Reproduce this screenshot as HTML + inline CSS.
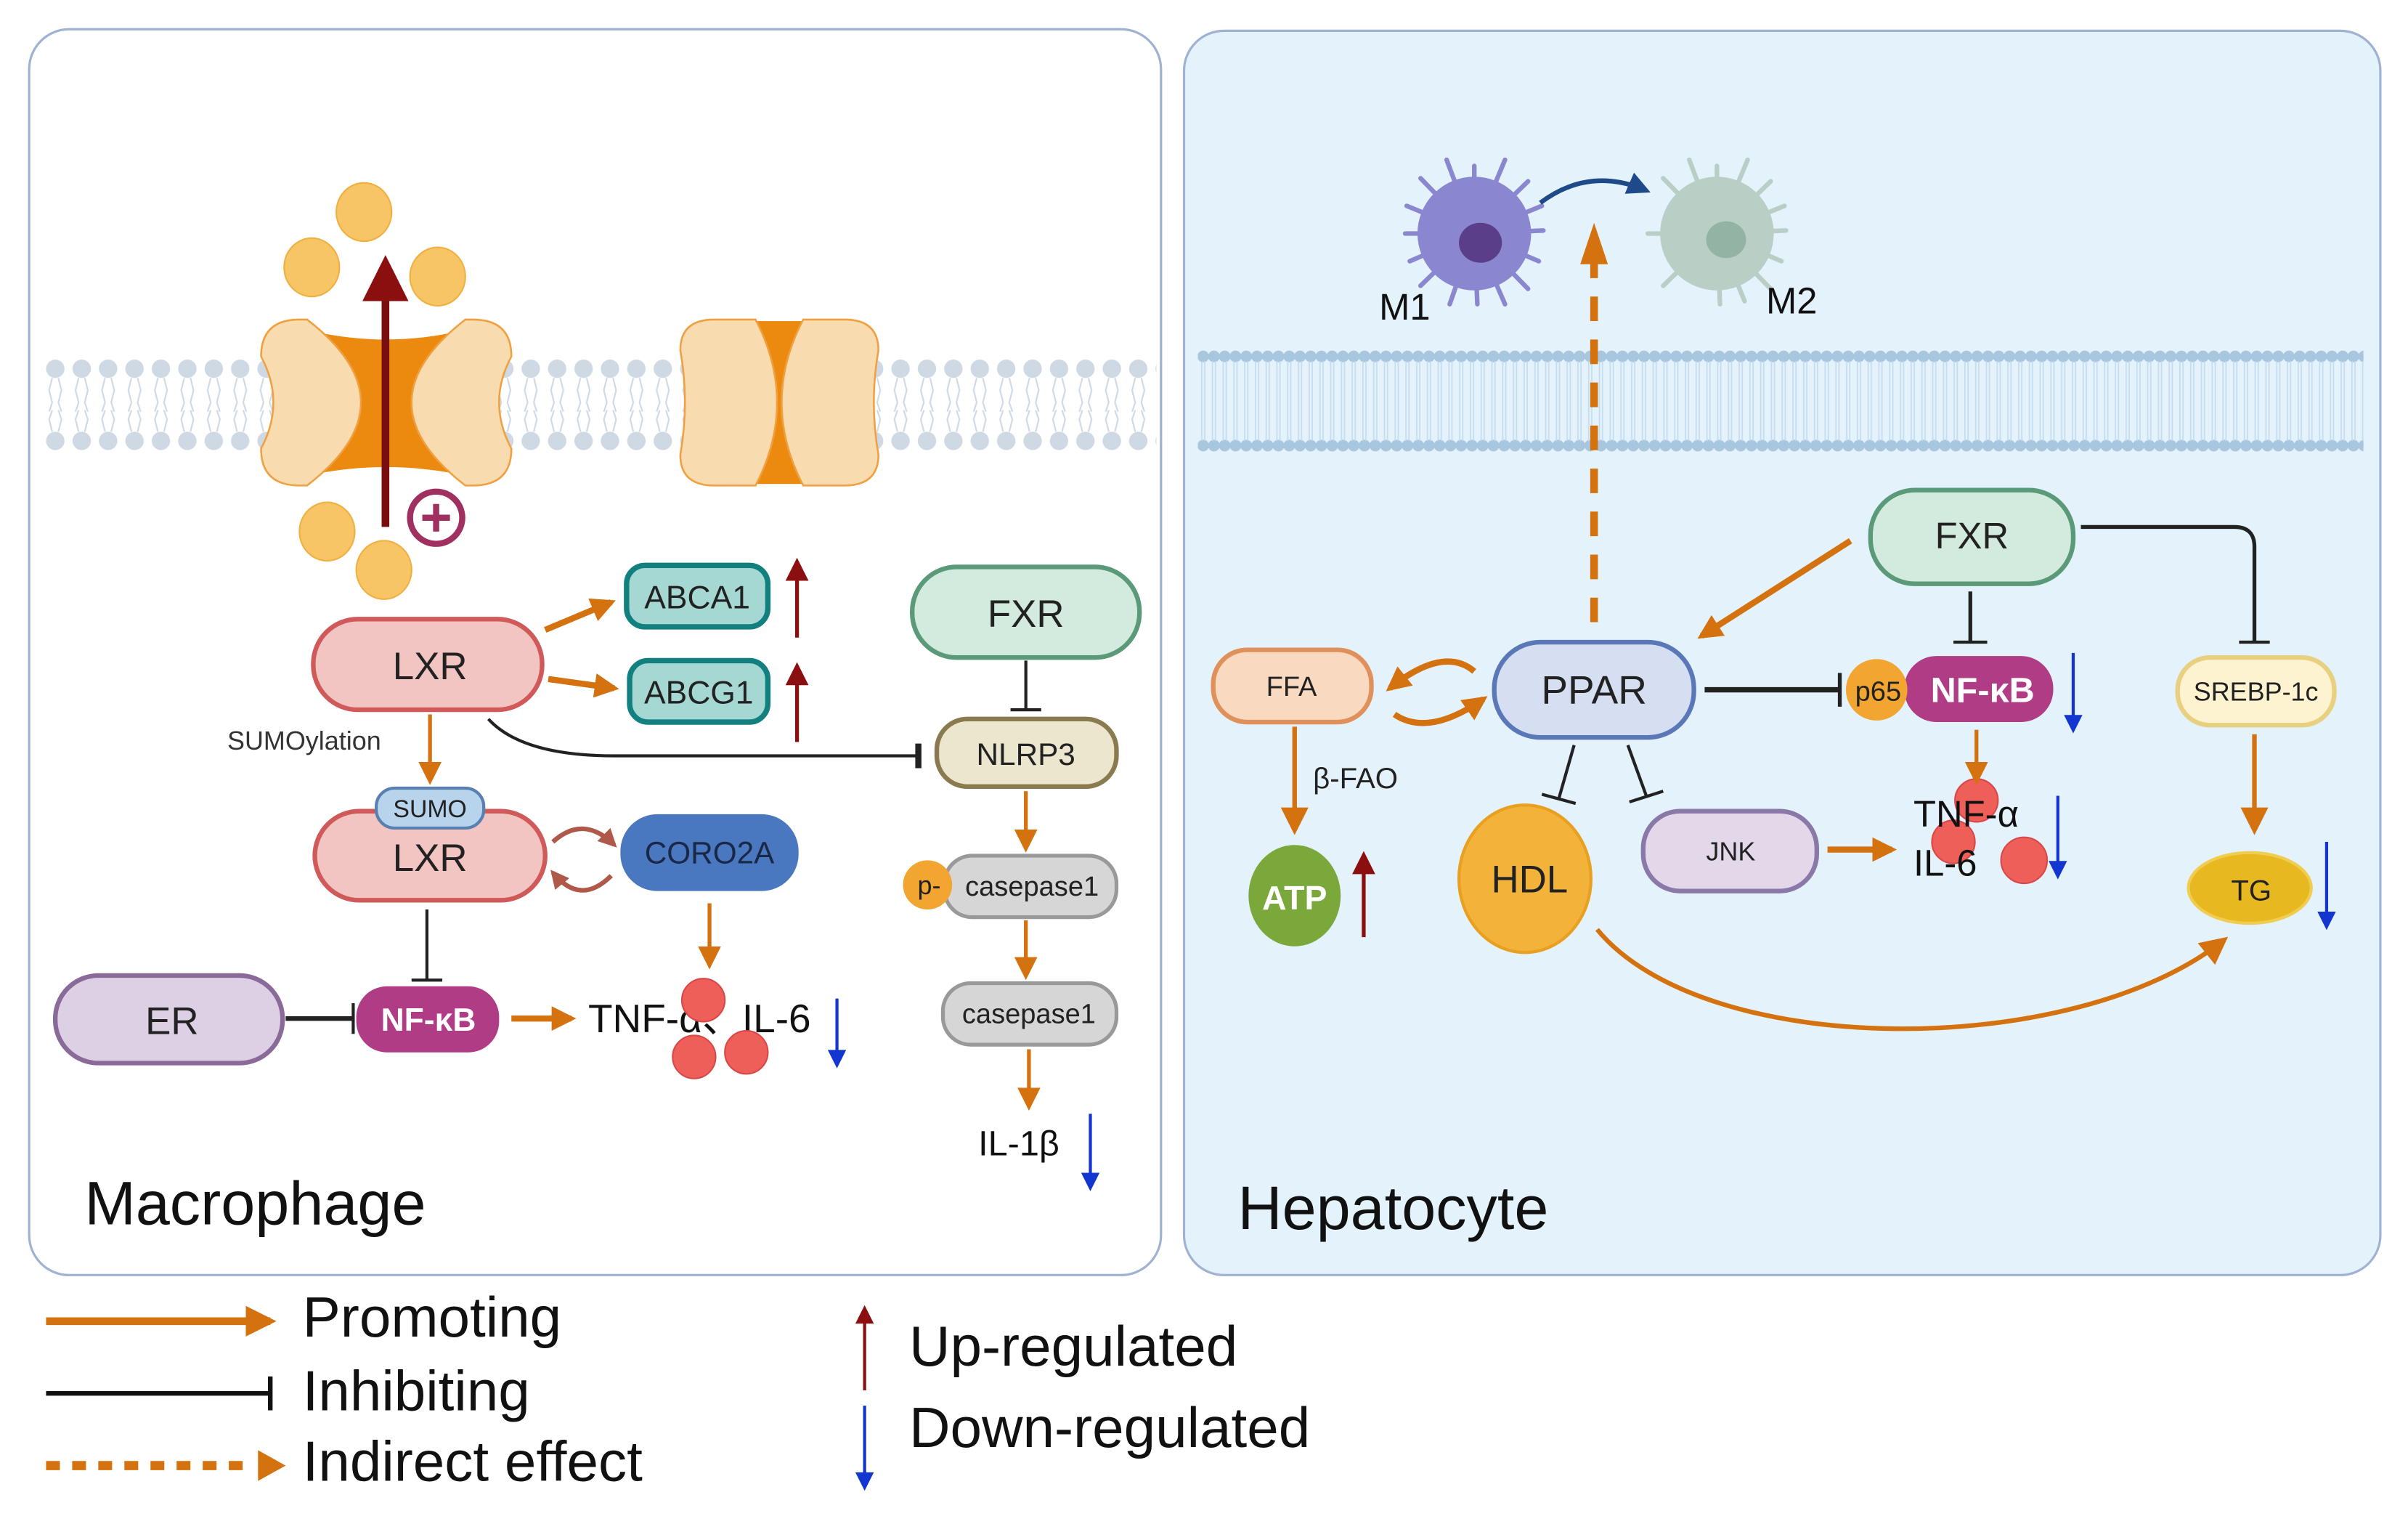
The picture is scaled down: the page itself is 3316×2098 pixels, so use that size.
<!DOCTYPE html>
<html><head><meta charset="utf-8"><style>
html,body{margin:0;padding:0;background:#fff;}
svg{display:block;}
text{font-family:"Liberation Sans",sans-serif;}
</style></head><body>
<svg width="3316" height="2098" viewBox="0 0 1568 992" xmlns="http://www.w3.org/2000/svg">
<defs>
<marker id="ao" viewBox="0 0 10 10" refX="8" refY="5" markerWidth="4" markerHeight="4" orient="auto"><path d="M0,0 L10,5 L0,10 z" fill="#d4720f"/></marker>
<marker id="ao2" viewBox="0 0 10 10" refX="8" refY="5" markerWidth="6" markerHeight="6" orient="auto"><path d="M0,0 L10,5 L0,10 z" fill="#d4720f"/></marker>
<marker id="ar" viewBox="0 0 10 10" refX="8" refY="5" markerWidth="7" markerHeight="6" orient="auto"><path d="M0,0 L10,5 L0,10 z" fill="#8b0f0f"/></marker>
<marker id="ab" viewBox="0 0 10 10" refX="8" refY="5" markerWidth="7" markerHeight="6" orient="auto"><path d="M0,0 L10,5 L0,10 z" fill="#1436d0"/></marker>
<marker id="anb" viewBox="0 0 10 10" refX="8" refY="5" markerWidth="5" markerHeight="5" orient="auto"><path d="M0,0 L10,5 L0,10 z" fill="#1f4a8a"/></marker>
<marker id="abr" viewBox="0 0 10 10" refX="8" refY="5" markerWidth="4" markerHeight="4" orient="auto"><path d="M0,0 L10,5 L0,10 z" fill="#b0584a"/></marker>
<pattern id="memL" patternUnits="userSpaceOnUse" x="28" y="232" width="17.2" height="64">
<circle cx="8" cy="8" r="6" fill="#cfd9e4"/><circle cx="8" cy="55" r="6" fill="#cfd9e4"/>
<path d="M6,14 l-2,8 l2,8 l-2,6 M10,14 l2,8 l-2,8 l2,6 M6,49 l-2,-8 l2,-6 M10,49 l2,-8 l-2,-6" stroke="#cfd9e4" stroke-width="1" fill="none"/>
</pattern>
<pattern id="memR" patternUnits="userSpaceOnUse" x="780" y="226" width="7" height="72">
<circle cx="3.5" cy="6" r="3.8" fill="#a9c6df"/><circle cx="3.5" cy="64" r="3.8" fill="#a9c6df"/>
<line x1="2.5" y1="9" x2="2.5" y2="61" stroke="#c4dcee" stroke-width="0.8"/><line x1="4.5" y1="9" x2="4.5" y2="61" stroke="#c4dcee" stroke-width="0.8"/>
</pattern>
</defs>

<rect x="19" y="19" width="737" height="811" rx="26" fill="#fff" stroke="#9fb2d2" stroke-width="1.5"/>
<rect x="771" y="20" width="779" height="810" rx="26" fill="#e3f2fb" stroke="#9fb2d2" stroke-width="1.5"/>

<rect x="28" y="232" width="725" height="64" fill="url(#memL)"/>
<!-- channel 1 -->
<path d="M190,212 Q251,230 313,212 L313,312 Q251,296 190,312 Z" fill="#ec8a10"/>
<path d="M170,232 Q170,208 195,208 L200,208 Q270,262 200,316 L195,316 Q170,316 170,292 Q186,262 170,232Z" fill="#f8dcb0" stroke="#f0a040" stroke-width="1.2"/>
<path d="M333,232 Q333,208 308,208 L303,208 Q233,262 303,316 L308,316 Q333,316 333,292 Q317,262 333,232Z" fill="#f8dcb0" stroke="#f0a040" stroke-width="1.2"/>
<!-- channel 2 -->
<rect x="488" y="209" width="38" height="106" fill="#ec8a10"/>
<path d="M443,228 Q443,208 465,208 L492,208 Q520,262 492,316 L465,316 Q443,316 443,296 Q449,262 443,228Z" fill="#f8dcb0" stroke="#f0a040" stroke-width="1.2"/>
<path d="M572,228 Q572,208 550,208 L523,208 Q495,262 523,316 L550,316 Q572,316 572,296 Q566,262 572,228Z" fill="#f8dcb0" stroke="#f0a040" stroke-width="1.2"/>
<g fill="#f7c466" stroke="#f0b040" stroke-width="1">
<ellipse cx="237" cy="138" rx="18" ry="19"/><ellipse cx="203" cy="174" rx="18" ry="19"/><ellipse cx="285" cy="180" rx="18" ry="19"/>
<ellipse cx="213" cy="346" rx="18" ry="19"/><ellipse cx="250" cy="371" rx="18" ry="19"/></g>
<line x1="251" y1="343" x2="251" y2="172" stroke="#7a0e0e" stroke-width="5" marker-end="url(#ar)"/>
<circle cx="284" cy="337" r="17" fill="#fff" stroke="#a03060" stroke-width="4"/>
<path d="M284,328 v18 M275,337 h18" stroke="#a03060" stroke-width="4"/>

<g font-size="24" text-anchor="middle">
<rect x="204" y="403" width="149" height="59" rx="29" fill="#f2c4c2" stroke="#d05a5a" stroke-width="3"/>
<text x="280" y="442" font-size="25" fill="#222">LXR</text>
<rect x="408" y="368" width="92" height="40" rx="12" fill="#a6d8d3" stroke="#138080" stroke-width="3.5"/>
<text x="454" y="396" font-size="21" fill="#222">ABCA1</text>
<rect x="410" y="430" width="90" height="40" rx="12" fill="#a6d8d3" stroke="#138080" stroke-width="3.5"/>
<text x="455" y="458" font-size="21" fill="#222">ABCG1</text>
<rect x="594" y="369" width="148" height="59" rx="29" fill="#d3eadf" stroke="#5a9a78" stroke-width="3"/>
<text x="668" y="408" font-size="25" fill="#222">FXR</text>
<rect x="610" y="468" width="117" height="44" rx="20" fill="#ece6cf" stroke="#8a7a50" stroke-width="3"/>
<text x="668" y="498" font-size="20" fill="#222">NLRP3</text>
<rect x="205" y="528" width="150" height="58" rx="29" fill="#f2c4c2" stroke="#d05a5a" stroke-width="3"/>
<text x="280" y="567" font-size="25" fill="#222">LXR</text>
<rect x="245" y="513" width="70" height="26" rx="12" fill="#b8d4ec" stroke="#5a80b0" stroke-width="2"/>
<text x="280" y="532" font-size="16" fill="#222">SUMO</text>
<rect x="404" y="530" width="116" height="50" rx="24" fill="#4a78c0"/>
<text x="462" y="562" font-size="20" fill="#1a2848">CORO2A</text>
<rect x="36" y="635" width="148" height="57" rx="28" fill="#ddd0e4" stroke="#8a6a98" stroke-width="3"/>
<text x="112" y="673" font-size="25" fill="#222">ER</text>
<rect x="232" y="642" width="93" height="43" rx="20" fill="#b03c86"/>
<text x="279" y="671" font-size="21" font-weight="bold" fill="#fff">NF-κB</text>
<rect x="615" y="557" width="112" height="40" rx="18" fill="#d6d6d6" stroke="#999" stroke-width="2.5"/>
<text x="672" y="583" font-size="18" fill="#222">casepase1</text>
<circle cx="604" cy="576" r="16" fill="#f2a531"/>
<text x="605" y="582" font-size="17" fill="#222">p-</text>
<rect x="614" y="640" width="113" height="40" rx="18" fill="#d6d6d6" stroke="#999" stroke-width="2.5"/>
<text x="670" y="666" font-size="18" fill="#222">casepase1</text>
</g>
<text x="148" y="488" font-size="17" fill="#333">SUMOylation</text>
<g stroke="#d4720f" stroke-width="4" fill="none">
<line x1="355" y1="410" x2="398" y2="392" marker-end="url(#ao)"/>
<line x1="357" y1="442" x2="400" y2="448" marker-end="url(#ao)"/>
<line x1="280" y1="465" x2="280" y2="508" stroke-width="2.5" marker-end="url(#ao2)"/>
<line x1="462" y1="588" x2="462" y2="628" stroke-width="2.5" marker-end="url(#ao2)"/>
<line x1="333" y1="663" x2="372" y2="663" marker-end="url(#ao)"/>
<line x1="668" y1="515" x2="668" y2="552" stroke-width="2.5" marker-end="url(#ao2)"/>
<line x1="668" y1="599" x2="668" y2="635" stroke-width="2.5" marker-end="url(#ao2)"/>
<line x1="670" y1="683" x2="670" y2="720" stroke-width="2.5" marker-end="url(#ao2)"/>
</g>
<g stroke="#8b0f0f" stroke-width="2.5"><line x1="519" y1="415" x2="519" y2="366" marker-end="url(#ar)"/><line x1="519" y1="483" x2="519" y2="434" marker-end="url(#ar)"/></g>
<g stroke="#222" stroke-width="2" fill="none">
<line x1="668" y1="430" x2="668" y2="462"/><line x1="658" y1="462" x2="678" y2="462"/>
<path d="M318,468 Q340,492 400,492 L597,492"/><line x1="598" y1="484" x2="598" y2="500" stroke-width="4"/>
<line x1="278" y1="592" x2="278" y2="638"/><line x1="268" y1="638" x2="288" y2="638"/>
<line x1="186" y1="663" x2="230" y2="663" stroke-width="3"/><line x1="230" y1="653" x2="230" y2="673"/>
</g>
<g stroke="#b0584a" stroke-width="3" fill="none">
<path d="M360,548 Q380,530 400,550" marker-end="url(#abr)"/>
<path d="M398,570 Q378,590 360,568" marker-end="url(#abr)"/>
</g>
<text x="383" y="672" font-size="26" fill="#111">TNF-α、IL-6</text>
<g fill="#ee5f5a" stroke="#d84848"><circle cx="458" cy="651" r="14"/><circle cx="452" cy="688" r="14"/><circle cx="486" cy="685" r="14"/></g>
<line x1="545" y1="650" x2="545" y2="693" stroke="#1436d0" stroke-width="2" marker-end="url(#ab)"/>
<text x="637" y="752" font-size="23" fill="#111">IL-1β</text>
<line x1="710" y1="725" x2="710" y2="773" stroke="#1436d0" stroke-width="2" marker-end="url(#ab)"/>
<text x="55" y="797" font-size="40" fill="#111">Macrophage</text>

<rect x="780" y="226" width="759" height="72" fill="url(#memR)"/>
<g>
<g stroke="#8a86d0" stroke-width="3" stroke-linecap="round">
<line x1="960" y1="152" x2="960" y2="108"/><line x1="960" y1="152" x2="995" y2="118"/><line x1="960" y1="152" x2="1005" y2="150"/><line x1="960" y1="152" x2="995" y2="188"/><line x1="960" y1="152" x2="962" y2="198"/><line x1="960" y1="152" x2="925" y2="186"/><line x1="960" y1="152" x2="915" y2="152"/><line x1="960" y1="152" x2="925" y2="116"/><line x1="960" y1="152" x2="942" y2="104"/><line x1="960" y1="152" x2="980" y2="104"/><line x1="960" y1="152" x2="1002" y2="170"/><line x1="960" y1="152" x2="918" y2="170"/><line x1="960" y1="152" x2="944" y2="198"/><line x1="960" y1="152" x2="980" y2="198"/><line x1="960" y1="152" x2="1004" y2="134"/><line x1="960" y1="152" x2="916" y2="134"/></g>
<circle cx="960" cy="152" r="37" fill="#8a86d0"/>
<ellipse cx="964" cy="158" rx="14" ry="13" fill="#5a3e8a"/>
<g stroke="#b9cfc5" stroke-width="3" stroke-linecap="round">
<line x1="1118" y1="152" x2="1118" y2="108"/><line x1="1118" y1="152" x2="1153" y2="118"/><line x1="1118" y1="152" x2="1163" y2="150"/><line x1="1118" y1="152" x2="1153" y2="188"/><line x1="1118" y1="152" x2="1120" y2="198"/><line x1="1118" y1="152" x2="1083" y2="186"/><line x1="1118" y1="152" x2="1073" y2="152"/><line x1="1118" y1="152" x2="1083" y2="116"/><line x1="1118" y1="152" x2="1100" y2="104"/><line x1="1118" y1="152" x2="1138" y2="104"/><line x1="1118" y1="152" x2="1160" y2="170"/><line x1="1118" y1="152" x2="1162" y2="134"/><line x1="1118" y1="152" x2="1136" y2="196"/></g>
<circle cx="1118" cy="152" r="37" fill="#b9cfc5"/>
<ellipse cx="1124" cy="156" rx="13" ry="12" fill="#93b3a4"/>
<path d="M1003,132 Q1035,108 1072,124" stroke="#1f4a8a" stroke-width="3" fill="none" marker-end="url(#anb)"/>
</g>
<text x="898" y="208" font-size="24" fill="#111">M1</text>
<text x="1150" y="204" font-size="24" fill="#111">M2</text>
<line x1="1038" y1="405" x2="1038" y2="158" stroke="#d4720f" stroke-width="5" stroke-dasharray="16,12"/>
<path d="M1029,172 L1038,145 L1047,172 Z" fill="#d4720f"/>

<g text-anchor="middle">
<rect x="1218" y="319" width="132" height="61" rx="29" fill="#d3eadf" stroke="#5a9a78" stroke-width="3"/>
<text x="1284" y="357" font-size="24" fill="#222">FXR</text>
<rect x="973" y="418" width="130" height="62" rx="30" fill="#d6dff2" stroke="#5a78b8" stroke-width="3"/>
<text x="1038" y="458" font-size="26" fill="#222">PPAR</text>
<rect x="790" y="423" width="103" height="47" rx="22" fill="#f9d9c0" stroke="#e0905a" stroke-width="3"/>
<text x="841" y="453" font-size="18" fill="#222">FFA</text>
<rect x="1240" y="427" width="97" height="43" rx="21" fill="#b03c86"/>
<text x="1291" y="457" font-size="23" font-weight="bold" fill="#fff">NF-κB</text>
<circle cx="1222" cy="449" r="20" fill="#f2a531"/>
<text x="1223" y="456" font-size="18" fill="#222">p65</text>
<rect x="1418" y="428" width="102" height="44" rx="21" fill="#fdf3d0" stroke="#e8d080" stroke-width="3"/>
<text x="1469" y="456" font-size="17" fill="#222">SREBP-1c</text>
<ellipse cx="843" cy="583" rx="30" ry="33" fill="#7aa83a"/>
<text x="843" y="592" font-size="22" font-weight="bold" fill="#fff">ATP</text>
<ellipse cx="993" cy="572" rx="43" ry="48" fill="#f3b23a" stroke="#e8a020" stroke-width="2"/>
<text x="996" y="581" font-size="25" fill="#222">HDL</text>
<rect x="1070" y="528" width="113" height="52" rx="24" fill="#e2d8ea" stroke="#8a78a8" stroke-width="3"/>
<text x="1127" y="560" font-size="17" fill="#222">JNK</text>
<ellipse cx="1465" cy="578" rx="40" ry="23" fill="#e8b820" stroke="#f0cc50" stroke-width="2"/>
<text x="1466" y="586" font-size="19" fill="#222">TG</text>
</g>
<text x="855" y="513" font-size="19" fill="#222">β-FAO</text>
<g fill="#ee5f5a" stroke="#d84848"><circle cx="1287" cy="521" r="14"/><circle cx="1272" cy="548" r="14"/><circle cx="1318" cy="560" r="15"/></g>
<text x="1246" y="538" font-size="24" fill="#111">TNF-α</text>
<text x="1246" y="570" font-size="24" fill="#111">IL-6</text>
<g stroke="#d4720f" stroke-width="4" fill="none">
<line x1="1205" y1="352" x2="1108" y2="414" marker-end="url(#ao)"/>
<path d="M960,437 Q940,420 905,448" marker-end="url(#ao)"/>
<path d="M908,465 Q930,480 966,455" marker-end="url(#ao)"/>
<line x1="843" y1="473" x2="843" y2="540" stroke-width="3" marker-end="url(#ao2)"/>
<line x1="1190" y1="553" x2="1232" y2="553" marker-end="url(#ao)"/>
<line x1="1287" y1="475" x2="1287" y2="508" stroke-width="2.5" marker-end="url(#ao2)"/>
<line x1="1468" y1="478" x2="1468" y2="540" stroke-width="3" marker-end="url(#ao2)"/>
<path d="M1040,605 C1110,690 1350,690 1448,612" stroke-width="3" marker-end="url(#ao2)"/>
</g>
<g stroke="#222" stroke-width="2.5" fill="none">
<line x1="1283" y1="385" x2="1283" y2="418"/><line x1="1272" y1="418" x2="1294" y2="418" stroke-width="2"/>
<path d="M1355,343 L1455,343 Q1468,343 1468,356 L1468,418"/><line x1="1458" y1="418" x2="1478" y2="418" stroke-width="2"/>
<line x1="1110" y1="449" x2="1198" y2="449" stroke-width="3.5"/><line x1="1198" y1="438" x2="1198" y2="460"/>
<line x1="1025" y1="485" x2="1015" y2="520" stroke-width="2"/><line x1="1004" y1="517" x2="1026" y2="523" stroke-width="2"/>
<line x1="1060" y1="485" x2="1072" y2="518" stroke-width="2"/><line x1="1061" y1="522" x2="1083" y2="515" stroke-width="2"/>
</g>
<line x1="888" y1="610" x2="888" y2="557" stroke="#8b0f0f" stroke-width="2.5" marker-end="url(#ar)"/>
<line x1="1350" y1="425" x2="1350" y2="475" stroke="#1436d0" stroke-width="2" marker-end="url(#ab)"/>
<line x1="1340" y1="518" x2="1340" y2="570" stroke="#1436d0" stroke-width="2" marker-end="url(#ab)"/>
<line x1="1515" y1="548" x2="1515" y2="603" stroke="#1436d0" stroke-width="2" marker-end="url(#ab)"/>
<text x="806" y="800" font-size="40" fill="#111">Hepatocyte</text>

<line x1="30" y1="860" x2="176" y2="860" stroke="#d4720f" stroke-width="5" marker-end="url(#ao)"/>
<text x="197" y="870" font-size="37" fill="#111">Promoting</text>
<line x1="30" y1="907" x2="175" y2="907" stroke="#111" stroke-width="3"/><line x1="176" y1="896" x2="176" y2="918" stroke="#111" stroke-width="3"/>
<text x="197" y="918" font-size="37" fill="#111">Inhibiting</text>
<line x1="30" y1="954" x2="165" y2="954" stroke="#d4720f" stroke-width="6" stroke-dasharray="9,8"/>
<path d="M168,944 L186,954 L168,964 Z" fill="#d4720f"/>
<text x="197" y="964" font-size="37" fill="#111">Indirect effect</text>
<line x1="563" y1="905" x2="563" y2="852" stroke="#8b0f0f" stroke-width="2" marker-end="url(#ar)"/>
<text x="592" y="889" font-size="37" fill="#111">Up-regulated</text>
<line x1="563" y1="915" x2="563" y2="968" stroke="#1436d0" stroke-width="2" marker-end="url(#ab)"/>
<text x="592" y="942" font-size="37" fill="#111">Down-regulated</text>
</svg>
</body></html>
